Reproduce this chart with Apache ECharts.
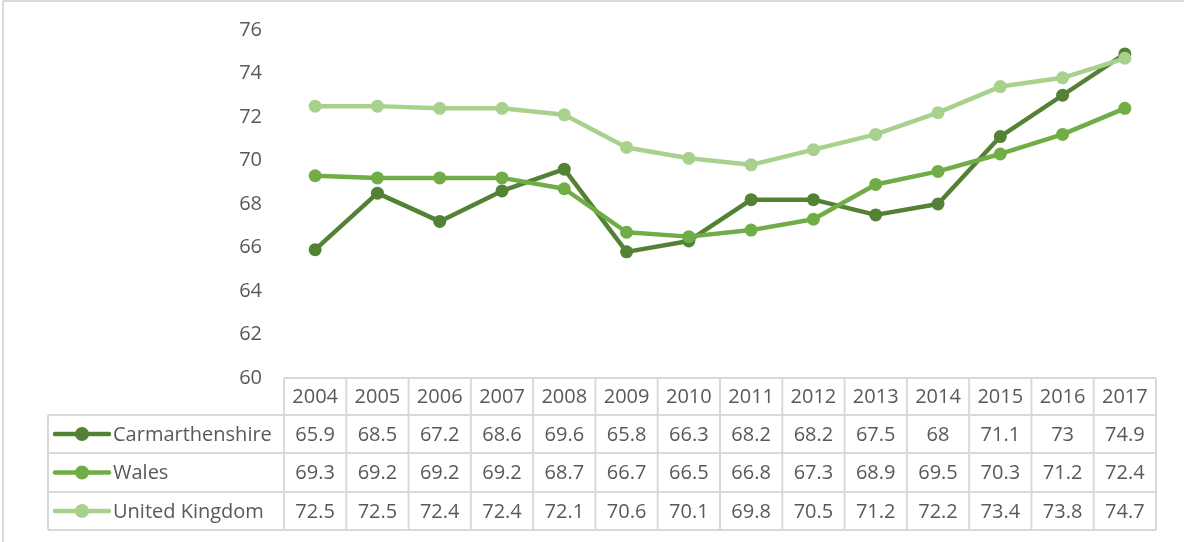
<!DOCTYPE html>
<html><head><meta charset="utf-8">
<script src="https://cdn.jsdelivr.net/npm/echarts@6/dist/echarts.min.js"></script>
<style>html,body{margin:0;padding:0;background:#fff}#c{width:1184px;height:542px}</style>
</head><body><div id="c"></div>
<script>
const years = ['2004','2005','2006','2007','2008','2009','2010','2011','2012','2013','2014','2015','2016','2017'];
const carmarthenshire = [65.9,68.5,67.2,68.6,69.6,65.8,66.3,68.2,68.2,67.5,68,71.1,73,74.9];
const wales = [69.3,69.2,69.2,69.2,68.7,66.7,66.5,66.8,67.3,68.9,69.5,70.3,71.2,72.4];
const uk = [72.5,72.5,72.4,72.4,72.1,70.6,70.1,69.8,70.5,71.2,72.2,73.4,73.8,74.7];
const seriesNames = ['Carmarthenshire','Wales','United Kingdom'];
const seriesData = [carmarthenshire, wales, uk];
const colors = ['#548235','#70ad47','#a9d18e'];

const FONT = '"Open Sans", sans-serif';
const TXT = '#595959';
const BORDER = '#d9d9d9';
const chart = echarts.init(document.getElementById('c'));
const gridL = 284, gridR = 28, gridT = 30, gridB = 164;
chart.setOption({
  animation:false,
  textStyle:{fontFamily:FONT},
  grid:{left:gridL,right:gridR,top:gridT,bottom:gridB},
  xAxis:{type:'category',data:years,boundaryGap:true,
    axisLine:{show:false},axisTick:{show:false},axisLabel:{show:false},splitLine:{show:false}},
  yAxis:{type:'value',min:60,max:76,interval:2,
    axisLine:{show:false},axisTick:{show:false},splitLine:{show:false},
    axisLabel:{color:TXT,fontSize:20,fontFamily:FONT,margin:22}},
  series: seriesNames.map((n,i)=>({
    name:n,type:'line',data:seriesData[i],
    symbol:'circle',symbolSize:13,
    lineStyle:{width:4.5,color:colors[i]},
    itemStyle:{color:colors[i]}
  }))
});

// Data table drawn below the plot
const gfx = [];
const W = 1184;
const plotLeft = gridL, plotRight = W - gridR;
const colW = (plotRight - plotLeft) / years.length;
const rowTops = [378, 415, 453, 492, 530];
const tableLeft = 48;
const line = (x1,y1,x2,y2)=>gfx.push({type:'line',shape:{x1,y1,x2,y2},style:{stroke:BORDER,lineWidth:2},silent:true});
// frame border (top and left)
line(3,1,W,1); line(3,1,3,542);
// horizontal lines
line(plotLeft,rowTops[0],plotRight,rowTops[0]);
for(let r=1;r<rowTops.length;r++) line(tableLeft,rowTops[r],plotRight,rowTops[r]);
// vertical lines
line(tableLeft,rowTops[1],tableLeft,rowTops[4]);
for(let c=0;c<=years.length;c++){
  const x = plotLeft + c*colW;
  line(x,rowTops[0],x,rowTops[4]);
}
// header text
years.forEach((y,c)=>{
  const cx = chart.convertToPixel({xAxisIndex:0}, c);
  gfx.push({type:'text',x:cx,y:(rowTops[0]+rowTops[1])/2+1,style:{text:y,fill:TXT,font:'20px '+FONT,textAlign:'center',textVerticalAlign:'middle'}});
});
// rows
seriesNames.forEach((n,r)=>{
  const cy = (rowTops[r+1]+rowTops[r+2])/2 + 1;
  gfx.push({type:'line',shape:{x1:55,y1:cy-1,x2:109,y2:cy-1},style:{stroke:colors[r],lineWidth:4.5,lineCap:'round'}});
  gfx.push({type:'circle',shape:{cx:82,cy:cy-1,r:7},style:{fill:colors[r]}});
  gfx.push({type:'text',x:113,y:cy,style:{text:n,fill:TXT,font:'20px '+FONT,textAlign:'left',textVerticalAlign:'middle'}});
  seriesData[r].forEach((v,c)=>{
    const cx = chart.convertToPixel({xAxisIndex:0}, c);
    gfx.push({type:'text',x:cx,y:cy,style:{text:String(v),fill:TXT,font:'20px '+FONT,textAlign:'center',textVerticalAlign:'middle'}});
  });
});
chart.setOption({graphic:{elements:gfx}});
</script></body></html>
